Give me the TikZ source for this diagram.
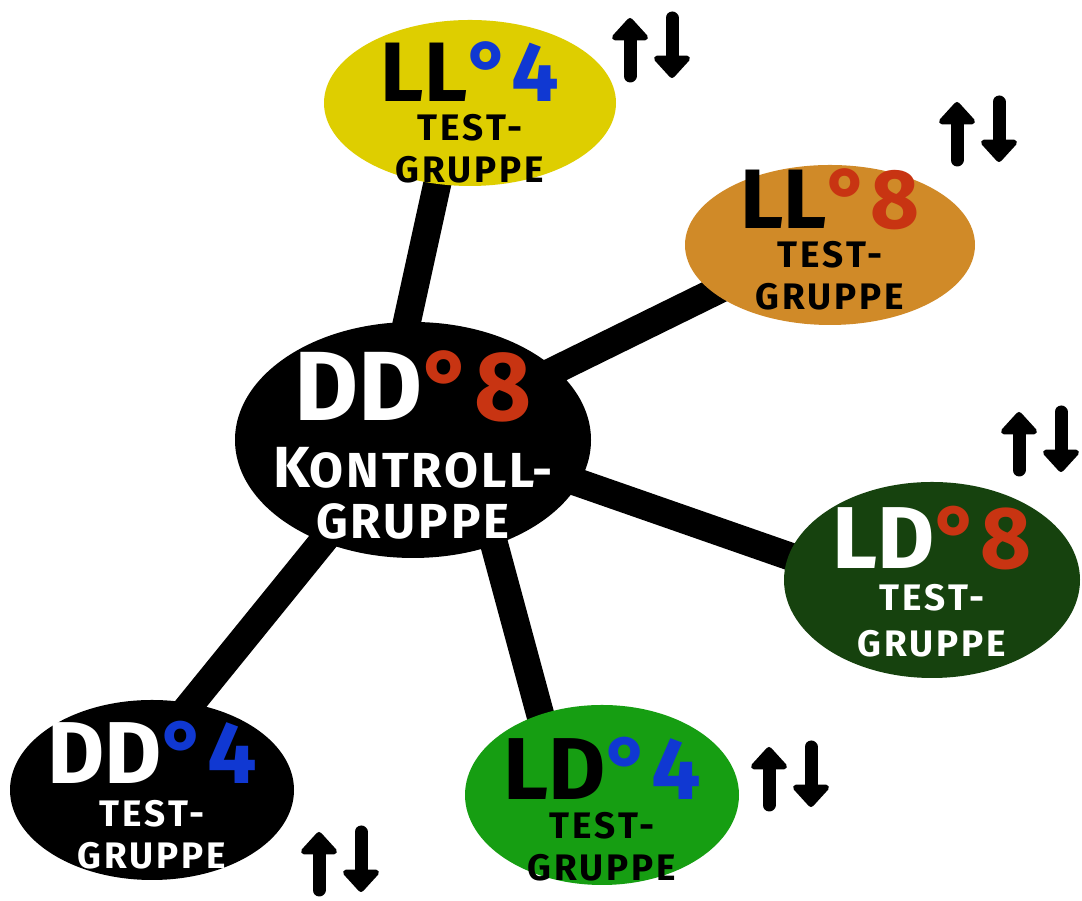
\documentclass[tikz,border=0pt]{standalone}
\usepackage{fontspec}
\setmainfont{Fira Sans}
\usetikzlibrary{shapes.geometric,arrows.meta}
\definecolor{gelb}{RGB}{222,206,0}
\definecolor{ocker}{RGB}{208,138,40}
\definecolor{dunkelgruen}{RGB}{22,66,14}
\definecolor{gruen}{RGB}{22,158,18}
\definecolor{rot}{RGB}{200,52,18}
\definecolor{blau}{RGB}{16,56,210}
\newcommand{\kopf}[4]{{\fontsize{#1}{#1}\selectfont\bfseries #2{\color{#3}°#4}}}
\newcommand{\klein}{\fontsize{10.5}{12}\selectfont\bfseries\addfontfeature{LetterSpace=8}}
\newcommand{\mitte}[2][0cm]{\makebox[0pt]{\smash{\raisebox{#1}{\begin{tabular}{@{}c@{}}#2\end{tabular}}}}}
\tikzset{
  gruppe/.style={ellipse, inner sep=0pt, outer sep=0pt},
  verbindung/.style={line width=0.28cm},
  pfeil/.style={line width=0.13cm, line cap=round,
    -{Triangle[width=0.42cm,length=0.24cm,round]}}
}
\begin{document}
\begin{tikzpicture}
\useasboundingbox (0,0) rectangle (10.82,9.01);
\fill[white] (0,0) rectangle (10.82,9.01);

% Gruppen
\coordinate (c-ctrl) at (4.13,4.61);
\coordinate (c-ll4) at (4.70,7.98);
\coordinate (c-ll8) at (8.30,6.56);
\coordinate (c-ld8) at (9.32,3.21);
\coordinate (c-ld4) at (6.02,1.06);
\coordinate (c-dd4) at (1.52,1.11);

\draw[verbindung] ([xshift=-0.32cm]c-ctrl) -- ([xshift=-0.15cm]c-ll4);
\draw[verbindung] (c-ctrl) -- ([yshift=0.1cm]c-ll8);
\draw[verbindung] ([yshift=0.15cm]c-ctrl) -- ([yshift=-0.26cm]c-ld8);
\draw[verbindung] ([xshift=0.53cm]c-ctrl) -- ([xshift=-0.40cm]c-ld4);
\draw[verbindung] ([xshift=-0.08cm]c-ctrl) -- ([xshift=-0.31cm]c-dd4);

\node[gruppe, fill=black, text=white, minimum width=3.56cm, minimum height=2.36cm] (ctrl) at (c-ctrl)
  {\mitte[-0.20cm]{\kopf{28}{DD}{rot}{8}\\[4pt]
  {\bfseries\addfontfeature{LetterSpace=6}\fontsize{16.5}{16}\selectfont K\fontsize{14}{16}\selectfont ONTROLL-}\\[1pt]
  {\bfseries\addfontfeature{LetterSpace=6}\fontsize{14}{16}\selectfont GRUPPE}}};
\node[gruppe, fill=gelb, text=black, minimum width=2.92cm, minimum height=1.66cm] (ll4) at (c-ll4)
  {\mitte[-0.24cm]{\kopf{24}{LL}{blau}{4}\\[-1pt] \klein TEST-\\[0pt] \klein GRUPPE}};
\node[gruppe, fill=ocker, text=black, minimum width=2.90cm, minimum height=1.60cm] (ll8) at (c-ll8)
  {\mitte[-0.09cm]{\kopf{24}{LL}{rot}{8}\\[-1pt] \klein TEST-\\[0pt] \klein GRUPPE}};
\node[gruppe, fill=dunkelgruen, text=white, minimum width=2.96cm, minimum height=1.96cm] (ld8) at (c-ld8)
  {\mitte[-0.16cm]{\kopf{25}{LD}{rot}{8}\\[0pt] \klein TEST-\\[1pt] \klein GRUPPE}};
\node[gruppe, fill=gruen, text=black, minimum width=2.74cm, minimum height=1.80cm] (ld4) at (c-ld4)
  {\mitte[-0.29cm]{\kopf{25}{LD}{blau}{4}\\[-1pt] \klein TEST-\\[0pt] \klein GRUPPE}};
\node[gruppe, fill=black, text=white, minimum width=2.84cm, minimum height=1.80cm] (dd4) at (c-dd4)
  {\mitte[-0.20cm]{\kopf{25}{DD}{blau}{4}\\[0pt] \klein TEST-\\[0pt] \klein GRUPPE}};

% Pfeile
\coordinate (s1) at (6.51,8.55);
\coordinate (s2) at (9.78,7.71);
\coordinate (s3) at (10.40,4.61);
\coordinate (s4) at (7.90,1.26);
\coordinate (s5) at (3.40,0.41);
\draw[pfeil] ([shift={(-0.21,-0.30)}]s1) -- ++(0,0.58);
\draw[pfeil] ([shift={(0.21,0.28)}]s1) -- ++(0,-0.60);
\draw[pfeil] ([shift={(-0.21,-0.30)}]s2) -- ++(0,0.58);
\draw[pfeil] ([shift={(0.21,0.28)}]s2) -- ++(0,-0.60);
\draw[pfeil] ([shift={(-0.21,-0.30)}]s3) -- ++(0,0.58);
\draw[pfeil] ([shift={(0.21,0.28)}]s3) -- ++(0,-0.60);
\draw[pfeil] ([shift={(-0.21,-0.30)}]s4) -- ++(0,0.58);
\draw[pfeil] ([shift={(0.21,0.28)}]s4) -- ++(0,-0.60);
\draw[pfeil] ([shift={(-0.21,-0.30)}]s5) -- ++(0,0.58);
\draw[pfeil] ([shift={(0.21,0.28)}]s5) -- ++(0,-0.60);
\end{tikzpicture}
\end{document}
